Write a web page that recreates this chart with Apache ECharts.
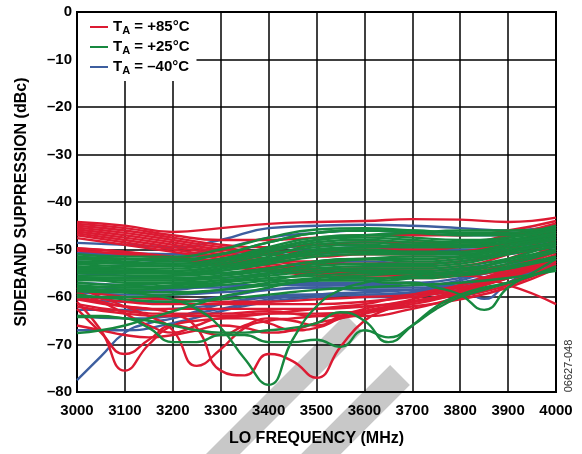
<!DOCTYPE html>
<html>
<head>
<meta charset="utf-8">
<script src="https://cdn.jsdelivr.net/npm/echarts@6/dist/echarts.min.js"></script>
<style>
  html, body { margin: 0; padding: 0; background: #fff; }
  #chart { width: 582px; height: 454px; }
</style>
</head>
<body>
<div id="chart"></div>
<script>
// LO frequency grids (MHz): coarse sweeps every 100 MHz, fine sweeps every 50 MHz
const freqCoarse = [3000, 3100, 3200, 3300, 3400, 3500, 3600, 3700, 3800, 3900, 4000];
const freqFine = [3000, 3050, 3100, 3150, 3200, 3250, 3300, 3350, 3400, 3450, 3500,
                  3550, 3600, 3650, 3700, 3750, 3800, 3850, 3900, 3950, 4000];

const xTicks = [3000, 3100, 3200, 3300, 3400, 3500, 3600, 3700, 3800, 3900, 4000];
const yTicks = [0, -10, -20, -30, -40, -50, -60, -70, -80];

// Sideband suppression (dBc), TA = -40°C
const cold40Coarse = [
  [-48.6, -49, -49.5, -48, -45.5, -45, -44.8, -45, -45.5, -46, -45],
  [-50.7, -50.8, -51, -49.8, -47.5, -46.5, -46, -46.5, -47, -47, -46],
  [-50.9, -51.2, -51.5, -51, -50, -49, -48.5, -49, -49.5, -49, -47.5],
  [-51.5, -52, -52.5, -52, -51, -50, -49.5, -50, -50, -49.5, -48],
  [-52.5, -53, -53.5, -53, -52, -51, -50.5, -51, -51, -50, -48.5],
  [-54, -54.5, -55, -55, -54, -53, -52.5, -53, -52.5, -51, -49.5],
  [-55, -55.5, -56, -56, -55, -54.5, -54, -54.5, -54, -52.5, -50.5],
  [-57, -57.5, -58, -58, -57.5, -57, -57, -57, -56, -54, -51.5],
  [-59, -59.5, -59.5, -59, -58.5, -58, -58.5, -58.5, -57.5, -55, -52],
  [-60.5, -61, -61, -60, -58.5, -58, -58, -58, -57, -54.5, -52],
  [-62.7, -62.7, -62.5, -61.5, -60, -59.5, -59.5, -59, -58, -55.5, -53],
  [-64, -64.5, -64, -62.5, -60.5, -59.5, -59, -58.5, -57.5, -55, -52.5],
  [-67, -67, -65.5, -63, -61, -60, -59.5, -59.5, -58.5, -56, -53.5]
];
const cold40Fine = [
  [-77.5, -72.5, -67.5, -65.5, -64.5, -63, -61.5, -60.5, -60, -59.5, -59.5,
   -59.5, -60, -60, -59, -57.5, -56.5, -55, -53.5, -52, -50.5],
  [-58, -58, -58.5, -58.5, -58.5, -58, -57.5, -57.5, -57.5, -57.5, -57.5,
   -57.5, -57.5, -57.5, -57, -57.5, -58, -60.4, -57, -54.5, -52]
];

// Sideband suppression (dBc), TA = +85°C
const hot85Coarse = [
  [-44.2, -45, -46.3, -45.5, -44.6, -44.2, -44, -43.6, -43.7, -44.2, -43.3],
  [-44.6, -45.5, -47, -48, -48, -47.5, -47, -47, -47, -46, -44],
  [-45, -46, -47.5, -49, -49.5, -49, -48.5, -48.5, -48.5, -47, -44.5],
  [-45.4, -46.5, -48, -49.5, -50.5, -50.5, -50, -50, -49.5, -47.5, -45],
  [-45.8, -47, -48.5, -50, -51, -51.5, -51, -51, -50.5, -48.5, -45.5],
  [-46.2, -47.5, -49, -50.5, -52, -52.5, -52, -52, -51.5, -49, -46],
  [-46.6, -48, -49.5, -51, -52.5, -53, -53, -53, -52.5, -50, -46.5],
  [-47, -48.5, -50, -51.5, -53, -54, -54, -54, -53.5, -51, -47],
  [-47.6, -49, -50.5, -52, -53.5, -54.5, -55, -55, -54.5, -52, -48],
  [-49.8, -50.5, -51.5, -52.5, -54, -55, -55.5, -55.5, -55, -53, -49],
  [-50.2, -51, -52, -53, -54.5, -55.5, -56, -56, -55.5, -54, -50],
  [-49.7, -50.5, -52, -53.5, -54.5, -55, -55, -55.5, -55.5, -57.5, -61.5],
  [-58.5, -60, -60.5, -61, -61, -60.5, -60, -59.5, -58, -55.5, -52],
  [-59.5, -61, -61.5, -61.5, -61.5, -61.5, -61, -60, -58.5, -56, -52.5],
  [-60.5, -62, -62.5, -62.5, -62.5, -62.5, -62, -61, -59.5, -57, -53],
  [-61.5, -63, -63.5, -63.5, -63, -64, -64, -62.5, -60, -57.5, -53.5],
  [-62, -63.5, -64, -64, -63.5, -63.5, -63, -62, -60.5, -58, -54]
];
const hot85Fine = [
  [-61, -67, -75.5, -70, -66, -65, -64.5, -64, -63.5, -63, -62.5,
   -62, -61.5, -60.5, -59.5, -58.5, -57.5, -56, -54.5, -52.5, -50.5],
  [-62.5, -67.5, -72, -69, -66, -67, -68, -66, -64.5, -65, -66,
   -64, -62.5, -61.5, -60.5, -59, -57.5, -56, -54, -52, -50],
  [-60, -61, -62, -62.5, -63.5, -66.5, -75.5, -76.5, -72, -73.5, -77,
   -70.5, -65, -62.5, -61, -60, -59, -57.5, -55.5, -53.5, -51.5],
  [-58, -60, -62, -64, -67, -74.5, -71, -66.5, -65, -64.5, -64,
   -63.5, -63, -62, -61, -60, -58.5, -57, -55.5, -53.5, -52],
  [-66, -67, -68, -68.5, -68, -67, -66, -66.5, -67.5, -67, -65.5,
   -64.5, -63.5, -62.5, -61.5, -60.5, -59, -57.5, -56, -54, -52.5],
  [-59, -61, -63.5, -66, -67.5, -66, -64.5, -64.5, -65.5, -67, -66.5,
   -64.5, -63, -62, -61, -60, -58.5, -56.5, -55, -53, -51]
];

// Sideband suppression (dBc), TA = +25°C
const room25Coarse = [
  [-51, -51.5, -51.5, -50, -47.5, -45.8, -45.5, -46, -46.5, -46.5, -45],
  [-51.5, -52, -52, -51, -48.5, -46.5, -46, -46, -46.5, -46.5, -45.5],
  [-51.8, -52, -52.5, -51, -48.5, -46.5, -46, -46.5, -47, -47, -45.5],
  [-52, -52.5, -53, -52, -50, -48, -47, -46.5, -46, -46, -45.5],
  [-52.5, -52.8, -53, -52, -49.5, -47.5, -47, -47.5, -48, -47.5, -46],
  [-52.8, -53, -53.5, -52.5, -50, -48, -47.5, -48, -48.5, -48, -46.5],
  [-53, -53.5, -53.5, -52.5, -50.5, -48.5, -48, -48.5, -49, -48, -46.5],
  [-53.5, -54, -54.5, -53.5, -51.5, -49, -48.5, -49, -49, -48.5, -47],
  [-53.8, -54, -54, -53, -51, -49.5, -49, -49.5, -49.5, -48.5, -47],
  [-54, -54.5, -55, -54, -52, -50, -49.5, -49, -48.5, -48, -47],
  [-54.5, -54.5, -54.5, -53.5, -52, -50.5, -50, -50.5, -50.5, -49, -47.5],
  [-54.8, -55, -55, -54, -52.5, -51, -50.5, -50.5, -50.5, -49.5, -47.5],
  [-55, -55, -55, -54.5, -53, -51.5, -51, -51, -51, -49.5, -48],
  [-55.5, -55.5, -55.5, -55, -54, -52.5, -52, -52, -51.5, -50, -48.5],
  [-55.8, -56, -55.5, -54.5, -52.5, -50.5, -49.5, -49.5, -49.5, -48.5, -46.5],
  [-56, -56, -56, -55.5, -54.5, -53.5, -53, -53, -52.5, -50.5, -49],
  [-56.3, -56.5, -56.5, -55.5, -54, -52.5, -52, -52.5, -52, -50.5, -48.5],
  [-56.5, -56.5, -56.5, -56, -55, -54, -53.5, -53.5, -53, -51, -49.5],
  [-57, -57.5, -57, -56.5, -55.5, -54.5, -54, -54, -53.5, -52, -50],
  [-57.5, -58, -57.5, -57, -56, -55.5, -55, -55, -54.5, -53, -50.5],
  [-57.8, -58, -58, -57.5, -56.5, -55, -54.5, -54.5, -54, -52.5, -50],
  [-58.5, -58.5, -58, -57, -55, -53, -52, -51.5, -51.5, -50.5, -48.5],
  [-58.8, -59, -59, -58.5, -57.5, -56.5, -56, -56, -55.5, -54, -51.5],
  [-60, -60, -59.5, -58.5, -57, -56, -55.5, -55, -55, -53.5, -51.5],
  [-59.5, -60.5, -61, -60.5, -59.5, -58.5, -58, -57.5, -57, -56, -54.5]
];
const room25Fine = [
  [-58, -58.5, -59, -59.5, -60.5, -62.5, -66.5, -73, -78.5, -69, -62,
   -58.5, -57, -56, -55.5, -55, -54.5, -53.5, -52, -50.5, -49],
  [-64, -64, -64.5, -65, -66, -67, -67.5, -67.5, -67, -66.5, -65.5,
   -63.2, -65, -69.5, -66, -62, -59.5, -58, -57, -55.5, -53.5],
  [-64.2, -64.2, -64.5, -66.5, -69.5, -69.5, -68, -68, -69.5, -69.5, -69,
   -70.5, -67, -68.5, -66, -62.5, -60, -58.5, -57, -55.5, -54],
  [-56, -56.5, -57, -57, -57, -57, -56.5, -56.5, -56.5, -56.5, -56.5,
   -56.5, -56.5, -57, -57, -58, -59.5, -62.7, -58, -55, -52],
  [-67.6, -67, -66, -64.5, -63, -61.5, -60, -59, -58, -57, -56.5,
   -56.5, -56.5, -56.5, -56, -55.5, -55, -54.5, -54, -53, -52]
];

const RED = '#dc1a32';
const GREEN = '#17883f';
const BLUE = '#3d5e9f';
const FONT = '"Liberation Sans", Arial, sans-serif';

const NAME_HOT = '+85°C';
const NAME_ROOM = '+25°C';
const NAME_COLD = '–40°C';

function toSeries(list, xs, name, color) {
  return list.map(vals => ({
    type: 'line',
    name: name,
    zlevel: 1,
    data: vals.map((v, i) => [xs[i], v]),
    smooth: 0.5,
    showSymbol: false,
    symbol: 'none',
    lineStyle: { color: color, width: 2.4 },
    itemStyle: { color: color },
    emphasis: { disabled: true },
    z: 3
  }));
}

const series = [].concat(
  toSeries(cold40Coarse, freqCoarse, NAME_COLD, BLUE),
  toSeries(cold40Fine, freqFine, NAME_COLD, BLUE),
  toSeries(hot85Coarse, freqCoarse, NAME_HOT, RED),
  toSeries(hot85Fine, freqFine, NAME_HOT, RED),
  toSeries(room25Coarse, freqCoarse, NAME_ROOM, GREEN),
  toSeries(room25Fine, freqFine, NAME_ROOM, GREEN)
);

const dash = s => String(s).replace('-', '–');

// Grey diagonal bands across the lower part of the page (bottom layer)
function band(cx, cy, halfW, len) {
  const d = [Math.SQRT1_2, -Math.SQRT1_2];
  const p = [Math.SQRT1_2, Math.SQRT1_2];
  const bx = cx - d[0] * len, by = cy - d[1] * len;
  return [
    [cx - p[0] * halfW, cy - p[1] * halfW],
    [cx + p[0] * halfW, cy + p[1] * halfW],
    [bx + p[0] * halfW, by + p[1] * halfW],
    [bx - p[0] * halfW, by - p[1] * halfW]
  ];
}

const chart = echarts.init(document.getElementById('chart'), null, { renderer: 'canvas' });
chart.setOption({
  animation: false,
  backgroundColor: '#ffffff',
  textStyle: { fontFamily: FONT },
  grid: {
    zlevel: 1,
    left: 77, right: 26, top: 12, bottom: 62,
    show: true, borderColor: '#000', borderWidth: 2, backgroundColor: 'transparent'
  },
  legend: {
    zlevel: 1, z: 20,
    left: 78, top: 13,
    orient: 'vertical',
    backgroundColor: '#ffffff',
    padding: [5, 7, 5, 12],
    itemGap: 2,
    itemWidth: 18,
    itemHeight: 2,
    icon: 'rect',
    data: [
      { name: NAME_HOT, itemStyle: { color: RED } },
      { name: NAME_ROOM, itemStyle: { color: GREEN } },
      { name: NAME_COLD, itemStyle: { color: BLUE } }
    ],
    selectedMode: false,
    formatter: n => '{t|T}{s|A}{t| = ' + n + '}',
    textStyle: {
      rich: {
        t: { fontSize: 15, fontWeight: 'bold', color: '#000', fontFamily: FONT, lineHeight: 17 },
        s: { fontSize: 11, fontWeight: 'bold', color: '#000', fontFamily: FONT, padding: [7, 0, 0, 0], lineHeight: 17 }
      }
    }
  },
  xAxis: {
    zlevel: 1,
    type: 'value',
    min: 3000, max: 4000, interval: 100,
    name: 'LO FREQUENCY (MHz)',
    nameLocation: 'middle',
    nameGap: 39,
    nameTextStyle: { fontSize: 16, fontWeight: 'bold', color: '#000' },
    axisLine: { lineStyle: { color: '#000', width: 2 } },
    axisTick: { show: false },
    axisLabel: {
      margin: 11, fontSize: 15, fontWeight: 'bold', color: '#000',
      formatter: v => xTicks.includes(v) ? String(v) : ''
    },
    splitLine: { show: true, lineStyle: { color: '#000', width: 1.5 } }
  },
  yAxis: {
    zlevel: 1,
    type: 'value',
    min: -80, max: 0, interval: 10,
    name: 'SIDEBAND SUPPRESSION (dBc)',
    nameLocation: 'middle',
    nameGap: 47,
    nameRotate: 90,
    nameTextStyle: { fontSize: 16, fontWeight: 'bold', color: '#000' },
    axisLine: { lineStyle: { color: '#000', width: 2 } },
    axisTick: { show: false },
    axisLabel: {
      margin: 5, fontSize: 15, fontWeight: 'bold', color: '#000',
      formatter: v => yTicks.includes(v) ? dash(v) : ''
    },
    splitLine: { show: true, lineStyle: { color: '#000', width: 1.5 } }
  },
  graphic: [
    {
      type: 'polygon', zlevel: 0, silent: true,
      shape: { points: band(354, 323, 12, 220) },
      style: { fill: '#c8c8c8' }
    },
    {
      type: 'polygon', zlevel: 0, silent: true,
      shape: { points: band(400, 375, 14, 140) },
      style: { fill: '#c8c8c8' }
    },
    {
      type: 'text', zlevel: 1, silent: true,
      x: 569, y: 366, rotation: Math.PI / 2,
      style: {
        text: '06627-048', fontSize: 11, fill: '#333', fontFamily: FONT,
        align: 'center', verticalAlign: 'middle'
      }
    }
  ],
  series: series
});
</script>
</body>
</html>
